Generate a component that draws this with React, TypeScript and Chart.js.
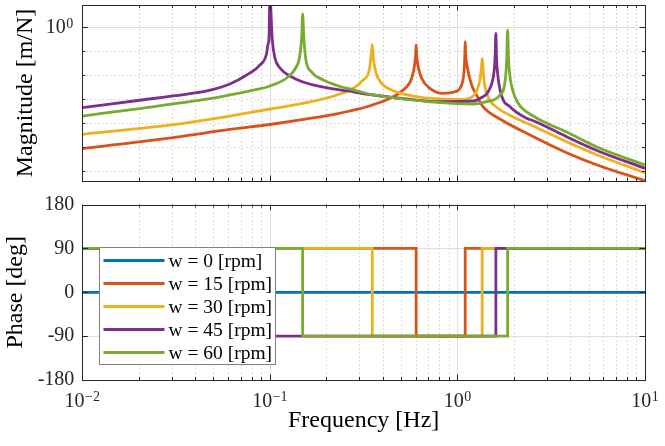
import React, { useEffect, useRef } from 'react';
import { Chart, registerables } from 'chart.js';

Chart.register(...registerables);

const FONT = '"Liberation Serif", "Times New Roman", serif';

const seriesLabels = ['w = 0 [rpm]', 'w = 15 [rpm]', 'w = 30 [rpm]', 'w = 45 [rpm]', 'w = 60 [rpm]'];
const seriesColors = ['#0072BD', '#D95319', '#EDB120', '#7E2F8E', '#77AC30'];

// ---- Magnitude (m/N) vs frequency (Hz) ----
const magF0: number[] = [];
const mag0: number[] = [];

const magF15 = [0.01, 0.0312, 0.0612, 0.1, 0.1636, 0.2271, 0.2673, 0.3388, 0.4365, 0.514, 0.57, 0.593, 0.5995, 0.6025, 0.6055, 0.618, 0.644, 0.713, 0.84, 0.97, 1.052, 1.086, 1.096, 1.1, 1.105, 1.128, 1.19, 1.265, 1.373, 1.685, 2.337, 3.819, 5.751, 10];
const mag15 = [8.74e-6, 2.61e-5, 5.52e-5, 8.91e-5, 1.585e-4, 2.49e-4, 3.25e-4, 5.26e-4, 1.10e-3, 2.44e-3, 7.50e-3, 3.16e-2, 8.49e-2, 0.183, 7.72e-2, 2.28e-2, 7.50e-3, 2.87e-3, 1.78e-3, 2.07e-3, 3.94e-3, 1.66e-2, 8.49e-2, 0.251, 8.49e-2, 2.28e-2, 3.94e-3, 1.51e-3, 4.78e-4, 1.51e-4, 3.83e-5, 5.96e-6, 1.66e-6, 4.06e-7];

const magF30 = [0.01, 0.0312, 0.0612, 0.1, 0.1636, 0.2365, 0.2784, 0.3148, 0.3388, 0.347, 0.3515, 0.356, 0.368, 0.3945, 0.455, 0.5808, 0.8065, 1.031, 1.214, 1.306, 1.34, 1.355, 1.37, 1.385, 1.459, 1.617, 1.984, 2.536, 3.819, 5.751, 10];
const mag30 = [3.48e-5, 9.0e-5, 2.01e-4, 3.94e-4, 7.72e-4, 1.66e-3, 2.87e-3, 6.37e-3, 1.66e-2, 7.01e-2, 0.196, 5.26e-2, 1.25e-2, 4.64e-3, 2.28e-3, 1.37e-3, 1.03e-3, 9.81e-4, 1.37e-3, 4.64e-3, 1.66e-2, 5.11e-2, 2.01e-2, 6.37e-3, 1.21e-3, 4.78e-4, 1.83e-4, 7.72e-5, 1.71e-5, 4.34e-6, 8.74e-7];

const magF45 = [0.01, 0.0207, 0.0312, 0.0468, 0.0612, 0.0752, 0.0886, 0.0962, 0.0975, 0.099, 0.1, 0.103, 0.1064, 0.1132, 0.128, 0.15, 0.1927, 0.2608, 0.3557, 0.5358, 0.8065, 1.214, 1.318, 1.49, 1.571, 1.59, 1.603, 1.615, 1.637, 1.721, 1.905, 2.337, 2.536, 3.378, 3.819, 5.751, 10];
const mag45 = [4.47e-4, 9.35e-4, 1.41e-3, 2.28e-3, 4.34e-3, 1.03e-2, 2.69e-2, 8.49e-2, 0.183, 0.394, 20, 0.296, 5.26e-2, 2.01e-2, 9.35e-3, 5.26e-3, 3.25e-3, 2.22e-3, 1.51e-3, 1.03e-3, 7.94e-4, 8.49e-4, 1.10e-3, 2.87e-3, 1.66e-2, 7.01e-2, 0.562, 5.79e-2, 1.21e-2, 1.37e-3, 4.92e-4, 1.62e-4, 1.28e-4, 4.47e-5, 2.77e-5, 6.56e-6, 1.33e-6];

const magF60 = [0.01, 0.0207, 0.0468, 0.0612, 0.0783, 0.1, 0.123, 0.1362, 0.1446, 0.1482, 0.1495, 0.152, 0.1557, 0.167, 0.1927, 0.2365, 0.2673, 0.3557, 0.5358, 0.8065, 1.214, 1.431, 1.685, 1.799, 1.83, 1.852, 1.87, 1.89, 1.969, 2.108, 2.536, 3.819, 5.751, 10];
const mag60 = [2.01e-4, 4.22e-4, 1.03e-3, 1.51e-3, 2.22e-3, 3.58e-3, 7.72e-3, 1.83e-2, 7.01e-2, 0.579, 3.58, 0.296, 4.34e-2, 1.37e-2, 6.37e-3, 3.41e-3, 2.69e-3, 1.51e-3, 1.0e-3, 7.22e-4, 6.37e-4, 7.94e-4, 1.51e-3, 6.37e-3, 4.34e-2, 0.772, 7.01e-2, 1.66e-2, 2.44e-3, 6.81e-4, 2.01e-4, 4.34e-5, 9.09e-6, 1.83e-6];

// ---- Phase (deg) vs frequency (Hz) ----
const phaseF0 = [0.01, 10];
const phase0 = [0, 0];
const phaseF15 = [0.01, 0.6025, 0.6025, 1.1, 1.1, 10];
const phase15 = [90, 90, -90, -90, 90, 90];
const phaseF30 = [0.01, 0.3515, 0.3515, 1.355, 1.355, 10];
const phase30 = [90, 90, -90, -90, 90, 90];
const phaseF45 = [0.01, 0.1, 0.1, 1.603, 1.603, 10];
const phase45 = [90, 90, -90, -90, 90, 90];
const phaseF60 = [0.01, 0.1495, 0.1495, 1.852, 1.852, 10];
const phase60 = [90, 90, -90, -90, 90, 90];

// ---- Axes ----
const freqMin = 0.01;
const freqMax = 10;
const freqTicks = [0.01, 0.1, 1, 10];
const freqTickExp = ['\u22122', '\u22121', '0', '1'];
const freqMinor = [0.02, 0.03, 0.04, 0.05, 0.06, 0.07, 0.08, 0.09, 0.2, 0.3, 0.4, 0.5, 0.6, 0.7, 0.8, 0.9, 2, 3, 4, 5, 6, 7, 8, 9];
const magMin = 3.94e-7;
const magMax = 8.49;
const magLabelTicks = [1];
const magLabelExp = ['0'];
const magMajor = [1];
const magMinor = [1e-6, 1e-5, 1e-4, 1e-3, 1e-2, 1e-1];
const phaseTicks = [-180, -90, 0, 90, 180];
const phaseTickLabels = ['-180', '-90', '0', '90', '180'];
const phaseMajor = [-90, 0, 90];

const magF = [magF0, magF15, magF30, magF45, magF60];
const magV = [mag0, mag15, mag30, mag45, mag60];
const phF = [phaseF0, phaseF15, phaseF30, phaseF45, phaseF60];
const phV = [phase0, phase15, phase30, phase45, phase60];

const toXY = (xs: number[], ys: number[]) => xs.map((x, i) => ({ x, y: ys[i] }));

const makeDatasets = (fs: number[][], vs: number[][], smooth: boolean) =>
  seriesLabels.map((label, i) => ({
    label,
    data: toXY(fs[i], vs[i]),
    borderColor: seriesColors[i],
    backgroundColor: seriesColors[i],
    borderWidth: 2.8,
    pointRadius: 0,
    tension: smooth ? 0.4 : 0,
    cubicInterpolationMode: smooth ? 'monotone' : 'default',
    fill: false,
    order: seriesLabels.length - 1 - i,
    clip: 0,
  }));

const axesPlugin = {
  id: 'matlabAxes',
  beforeDatasetsDraw(chart: any, _args: any, opts: any) {
    const { ctx, chartArea } = chart;
    const { left, right, top, bottom } = chartArea;
    const xs = chart.scales.x;
    const ys = chart.scales.y;
    ctx.save();
    ctx.lineWidth = 1;
    ctx.strokeStyle = '#b8b8b8';
    ctx.setLineDash([1, 3]);
    ctx.beginPath();
    (opts.xMinor || []).forEach((v: number) => {
      const p = Math.round(xs.getPixelForValue(v)) + 0.5;
      ctx.moveTo(p, top);
      ctx.lineTo(p, bottom);
    });
    (opts.yMinor || []).forEach((v: number) => {
      const p = Math.round(ys.getPixelForValue(v)) + 0.5;
      ctx.moveTo(left, p);
      ctx.lineTo(right, p);
    });
    ctx.stroke();
    ctx.setLineDash([]);
    ctx.strokeStyle = '#dedede';
    ctx.beginPath();
    (opts.xMajor || []).forEach((v: number) => {
      const p = Math.round(xs.getPixelForValue(v)) + 0.5;
      ctx.moveTo(p, top);
      ctx.lineTo(p, bottom);
    });
    (opts.yMajor || []).forEach((v: number) => {
      const p = Math.round(ys.getPixelForValue(v)) + 0.5;
      ctx.moveTo(left, p);
      ctx.lineTo(right, p);
    });
    ctx.stroke();
    ctx.restore();
  },
  afterDatasetsDraw(chart: any, _args: any, opts: any) {
    const { ctx, chartArea } = chart;
    const { left, right, top, bottom } = chartArea;
    const xs = chart.scales.x;
    const ys = chart.scales.y;
    ctx.save();
    ctx.strokeStyle = '#262626';
    ctx.lineWidth = 1;
    ctx.beginPath();
    const L = 5.5;
    const S = 3;
    const xt = (v: number, len: number) => {
      const p = Math.round(xs.getPixelForValue(v)) + 0.5;
      ctx.moveTo(p, bottom);
      ctx.lineTo(p, bottom - len);
      ctx.moveTo(p, top);
      ctx.lineTo(p, top + len);
    };
    const yt = (v: number, len: number) => {
      const p = Math.round(ys.getPixelForValue(v)) + 0.5;
      ctx.moveTo(left, p);
      ctx.lineTo(left + len, p);
      ctx.moveTo(right, p);
      ctx.lineTo(right - len, p);
    };
    (opts.xMajor || []).forEach((v: number) => xt(v, L));
    (opts.xMinor || []).forEach((v: number) => xt(v, S));
    (opts.yMajorTicks || []).forEach((v: number) => yt(v, L));
    (opts.yMinor || []).forEach((v: number) => yt(v, S));
    ctx.stroke();
    ctx.strokeRect(Math.round(left) + 0.5, Math.round(top) + 0.5, Math.round(right - left), Math.round(bottom - top));
    ctx.restore();
  },
};

// Power-of-ten tick labels ("10" with a raised exponent), placed through the scales
const expLabelPlugin = {
  id: 'expLabels',
  afterDraw(chart: any, _args: any, opts: any) {
    const { ctx, chartArea } = chart;
    ctx.save();
    ctx.fillStyle = '#262626';
    ctx.textBaseline = 'alphabetic';
    ctx.textAlign = 'left';
    const baseFont = `20px ${FONT}`;
    const expFont = `14px ${FONT}`;
    const draw = (anchorX: number, baseY: number, exp: string, align: 'center' | 'right') => {
      ctx.font = baseFont;
      const wb = ctx.measureText('10').width;
      ctx.font = expFont;
      const we = ctx.measureText(exp).width;
      const total = wb + we + 0.5;
      const x0 = align === 'center' ? anchorX - total / 2 : anchorX - total;
      ctx.font = baseFont;
      ctx.fillText('10', x0, baseY);
      ctx.font = expFont;
      ctx.fillText(exp, x0 + wb + 0.5, baseY - 5.5);
    };
    if (opts.x) {
      const xs = chart.scales.x;
      opts.x.values.forEach((v: number, i: number) => {
        draw(xs.getPixelForValue(v), chartArea.bottom + 26.7, opts.x.exps[i], 'center');
      });
    }
    if (opts.y) {
      const ys = chart.scales.y;
      opts.y.values.forEach((v: number, i: number) => {
        draw(chartArea.left - 9, ys.getPixelForValue(v) + 6, opts.y.exps[i], 'right');
      });
    }
    ctx.restore();
  },
};

const legendPlugin = {
  id: 'boxLegend',
  afterDraw(chart: any) {
    const { ctx, chartArea } = chart;
    const x0 = Math.round(chartArea.left + 16.7) + 0.5;
    const y0 = Math.round(chartArea.top + 42.4) + 0.5;
    const w = 176;
    const h = 117;
    ctx.save();
    ctx.fillStyle = '#ffffff';
    ctx.fillRect(x0, y0, w, h);
    ctx.strokeStyle = '#808080';
    ctx.lineWidth = 1;
    ctx.strokeRect(x0, y0, w, h);
    ctx.font = `19.5px ${FONT}`;
    ctx.textBaseline = 'middle';
    ctx.textAlign = 'left';
    chart.data.datasets.forEach((ds: any, i: number) => {
      const yy = y0 + 13 + i * 23;
      ctx.strokeStyle = ds.borderColor;
      ctx.lineWidth = 2.8;
      ctx.beginPath();
      ctx.moveTo(x0 + 4, yy);
      ctx.lineTo(x0 + 65, yy);
      ctx.stroke();
      ctx.fillStyle = '#000';
      ctx.fillText(ds.label, x0 + 69, yy + 1);
    });
    ctx.restore();
  },
};

const tickFont = { family: FONT, size: 20 };
const titleFont = { family: FONT, size: 24 };

export default function App() {
  const topRef = useRef<HTMLCanvasElement>(null);
  const botRef = useRef<HTMLCanvasElement>(null);

  useEffect(() => {
    const top = new Chart(topRef.current as HTMLCanvasElement, {
      type: 'line',
      data: { datasets: makeDatasets(magF, magV, true) as any },
      plugins: [axesPlugin, expLabelPlugin],
      options: {
        animation: false,
        responsive: false,
        layout: { padding: { left: 0, right: 20, top: 5, bottom: 0 } },
        plugins: {
          legend: { display: false },
          tooltip: { enabled: false },
          matlabAxes: { xMajor: freqTicks, xMinor: freqMinor, yMajor: magMajor, yMajorTicks: magMajor, yMinor: magMinor },
          expLabels: { y: { values: magLabelTicks, exps: magLabelExp } },
        } as any,
        scales: {
          x: {
            type: 'logarithmic',
            min: freqMin,
            max: freqMax,
            grid: { display: false, drawTicks: false },
            border: { display: false },
            ticks: { display: false },
            afterFit: (s: any) => { s.height = 14; s.paddingLeft = 0; s.paddingRight = 0; },
          },
          y: {
            type: 'logarithmic',
            min: magMin,
            max: magMax,
            grid: { display: false, drawTicks: false },
            border: { display: false },
            ticks: { display: false },
            title: { display: true, text: 'Magnitude [m/N]', color: '#000', font: titleFont, padding: { top: 11, bottom: 0 } },
            afterFit: (s: any) => { s.width = 82.3; s.paddingTop = 0; s.paddingBottom = 0; },
          },
        } as any,
      },
    });

    const bot = new Chart(botRef.current as HTMLCanvasElement, {
      type: 'line',
      data: { datasets: makeDatasets(phF, phV, false) as any },
      plugins: [axesPlugin, legendPlugin, expLabelPlugin],
      options: {
        animation: false,
        responsive: false,
        layout: { padding: { left: 0, right: 20, top: 9.6, bottom: 0 } },
        plugins: {
          legend: { display: false },
          tooltip: { enabled: false },
          matlabAxes: { xMajor: freqTicks, xMinor: freqMinor, yMajor: phaseMajor, yMajorTicks: phaseTicks, yMinor: [] },
          expLabels: { x: { values: freqTicks, exps: freqTickExp } },
        } as any,
        scales: {
          x: {
            type: 'logarithmic',
            min: freqMin,
            max: freqMax,
            grid: { display: false, drawTicks: false },
            border: { display: false },
            ticks: { display: false },
            title: { display: true, text: 'Frequency [Hz]', color: '#000', font: titleFont, padding: { top: 0, bottom: 10.6 } },
            afterFit: (s: any) => { s.height = 66; s.paddingLeft = 0; s.paddingRight = 0; },
          },
          y: {
            type: 'linear',
            min: -180,
            max: 180,
            grid: { display: false, drawTicks: false },
            border: { display: false },
            afterBuildTicks: (s: any) => { s.ticks = phaseTicks.map((v) => ({ value: v })); },
            ticks: {
              autoSkip: false,
              padding: 8,
              color: '#262626',
              font: tickFont,
              callback: (_v: any, i: number) => phaseTickLabels[i],
            },
            title: { display: true, text: 'Phase [deg]', color: '#000', font: titleFont, padding: { top: 1.4, bottom: 0 } },
            afterFit: (s: any) => { s.width = 82.3; s.paddingTop = 0; s.paddingBottom = 0; },
          },
        } as any,
      },
    });

    return () => {
      top.destroy();
      bot.destroy();
    };
  }, []);

  return (
    <div style={{ position: 'absolute', left: 0, top: 0, width: 665, height: 446, background: '#ffffff' }}>
      <canvas ref={topRef} width={665} height={195} style={{ position: 'absolute', left: 0, top: 0, width: 665, height: 195 }} />
      <canvas ref={botRef} width={665} height={251} style={{ position: 'absolute', left: 0, top: 195, width: 665, height: 251 }} />
    </div>
  );
}
